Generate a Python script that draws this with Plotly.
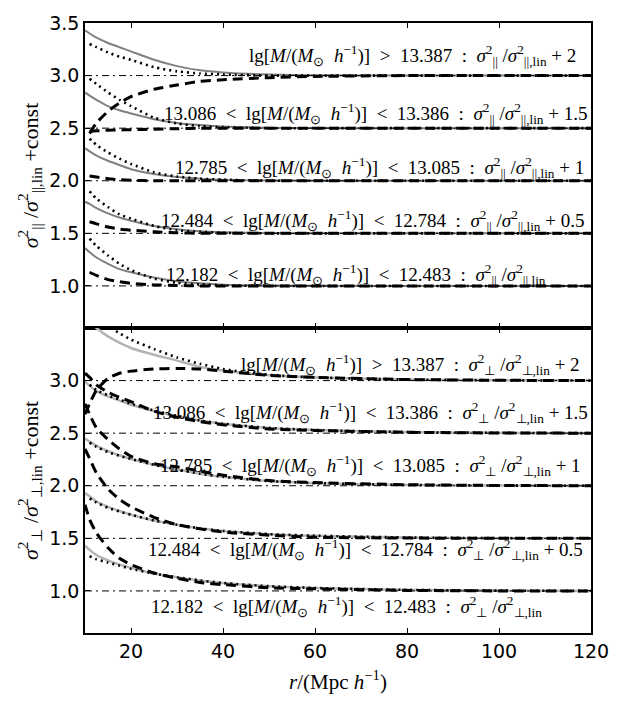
import plotly.graph_objects as go
from plotly.subplots import make_subplots

# separation r in Mpc/h
R_MODEL = [10, 11, 12.5, 15, 17.5, 20, 25, 30, 35, 40, 50, 60, 80, 100, 120]
R_SIM = [11, 12.5, 15, 17.5, 20, 25, 30, 35, 40, 50, 60, 80, 100, 120]

# vertical offsets added to each mass bin (lowest -> highest)
OFFSETS = [0.0, 0.5, 1.0, 1.5, 2.0]
MASS_LO = ["12.182", "12.484", "12.785", "13.086", None]
MASS_HI = ["12.483", "12.784", "13.085", "13.386", "13.387"]
OFFSET_TXT = ["", "+ 0.5", "+ 1", "+ 1.5", "+ 2"]

# sigma_par^2 / sigma_par,lin^2 - 1  (one list per mass bin)
PAR_SOLID = [
    [0.36, 0.32, 0.27, 0.21, 0.16, 0.13, 0.08, 0.045, 0.025, 0.012, 0.004, 0.001, 0, 0, 0],
    [0.30, 0.28, 0.24, 0.19, 0.15, 0.12, 0.07, 0.04, 0.02, 0.01, 0.003, 0.001, 0, 0, 0],
    [0.31, 0.28, 0.24, 0.19, 0.15, 0.11, 0.065, 0.035, 0.02, 0.01, 0.003, 0.001, 0, 0, 0],
    [0.34, 0.31, 0.27, 0.21, 0.17, 0.14, 0.085, 0.05, 0.03, 0.015, 0.005, 0.001, 0, 0, 0],
    [0.43, 0.40, 0.36, 0.31, 0.27, 0.23, 0.15, 0.09, 0.05, 0.03, 0.01, 0.003, 0, 0, 0],
]
PAR_DOT = [
    [0.45, 0.38, 0.29, 0.21, 0.15, 0.07, 0.03, 0.015, 0.005, 0, 0, 0, 0, 0],
    [0.40, 0.33, 0.25, 0.18, 0.14, 0.07, 0.03, 0.015, 0.005, 0, 0, 0, 0, 0],
    [0.40, 0.34, 0.27, 0.21, 0.16, 0.08, 0.04, 0.02, 0.01, 0, 0, 0, 0, 0],
    [0.47, 0.42, 0.34, 0.27, 0.21, 0.10, 0.045, 0.02, 0.01, 0, 0, 0, 0, 0],
    [0.30, 0.27, 0.22, 0.18, 0.15, 0.08, 0.04, 0.02, 0.01, 0, 0, 0, 0, 0],
]
PAR_DASH = [
    [0.13, 0.10, 0.06, 0.04, 0.025, 0.01, 0.005, 0, 0, 0, 0, 0, 0, 0],
    [0.11, 0.09, 0.06, 0.04, 0.03, 0.015, 0.005, 0, 0, 0, 0, 0, 0, 0],
    [0.045, 0.035, 0.02, 0.01, 0.005, 0, 0, 0, 0, 0, 0, 0, 0, 0],
    [-0.03, -0.025, -0.02, -0.017, -0.015, -0.01, -0.005, 0, 0, 0, 0, 0, 0, 0],
    [-0.55, -0.45, -0.34, -0.26, -0.20, -0.13, -0.09, -0.055, -0.04, -0.02, -0.008, 0, 0, 0],
]

# sigma_perp^2 / sigma_perp,lin^2 - 1
PERP_SOLID = [
    [0.43, 0.39, 0.34, 0.29, 0.25, 0.22, 0.165, 0.13, 0.10, 0.075, 0.045, 0.028, 0.01, 0.003, 0],
    [0.43, 0.40, 0.35, 0.30, 0.26, 0.225, 0.17, 0.13, 0.095, 0.07, 0.04, 0.025, 0.008, 0.002, 0],
    [0.45, 0.42, 0.38, 0.33, 0.29, 0.255, 0.20, 0.155, 0.115, 0.085, 0.045, 0.025, 0.008, 0.002, 0],
    [0.49, 0.45, 0.40, 0.35, 0.31, 0.27, 0.21, 0.16, 0.12, 0.09, 0.05, 0.03, 0.01, 0.003, 0],
    [0.60, 0.56, 0.50, 0.42, 0.36, 0.31, 0.245, 0.19, 0.13, 0.095, 0.05, 0.03, 0.01, 0.003, 0],
]
PERP_DOT = [
    [0.33, 0.30, 0.27, 0.24, 0.21, 0.165, 0.13, 0.10, 0.075, 0.045, 0.028, 0.01, 0.003, 0],
    [0.38, 0.34, 0.29, 0.255, 0.225, 0.17, 0.13, 0.095, 0.07, 0.04, 0.025, 0.008, 0.002, 0],
    [0.41, 0.37, 0.32, 0.285, 0.255, 0.20, 0.155, 0.115, 0.085, 0.045, 0.025, 0.008, 0.002, 0],
    [0.46, 0.41, 0.36, 0.32, 0.28, 0.215, 0.165, 0.12, 0.09, 0.05, 0.03, 0.01, 0.003, 0],
    [0.70, 0.62, 0.52, 0.45, 0.39, 0.30, 0.22, 0.16, 0.11, 0.055, 0.03, 0.01, 0.003, 0],
]
PERP_DASH = [
    [0.82, 0.68, 0.55, 0.41, 0.31, 0.25, 0.17, 0.12, 0.08, 0.06, 0.03, 0.02, 0.005, 0, 0],
    [0.85, 0.76, 0.62, 0.47, 0.37, 0.30, 0.20, 0.13, 0.09, 0.06, 0.03, 0.01, 0.003, 0, 0],
    [0.78, 0.68, 0.55, 0.44, 0.35, 0.28, 0.21, 0.18, 0.14, 0.10, 0.05, 0.03, 0.01, 0.003, 0],
    [0.57, 0.53, 0.46, 0.39, 0.34, 0.30, 0.21, 0.15, 0.11, 0.08, 0.04, 0.025, 0.008, 0.002, 0],
    [-0.32, -0.22, -0.09, 0.02, 0.07, 0.09, 0.11, 0.115, 0.11, 0.09, 0.05, 0.03, 0.01, 0.003, 0],
]

# label anchor points (x of right end, y centre) per panel
PAR_LABEL_X = [110.7, 118.9, 118.9, 119.6, 117.2]
PAR_LABEL_Y = [1.11, 1.62, 2.13, 2.64, 3.19]
PERP_LABEL_X = [109.8, 118.8, 118.3, 119.8, 118.0]
PERP_LABEL_Y = [0.85, 1.39, 2.19, 2.70, 3.15]

SERIF = "Liberation Serif"
SANS = "DejaVu Sans"
PAR = "||"
PERP = "⊥"
SP = "&nbsp;"

fig = make_subplots(rows=2, cols=1, shared_xaxes=True, vertical_spacing=0)


def add_panel(row, solid, dot, dash, solid_color, solid_width):
    for k, off in enumerate(OFFSETS):
        fig.add_trace(go.Scatter(
            x=R_MODEL, y=[1 + off + v for v in solid[k]], mode="lines",
            line=dict(color=solid_color, width=solid_width, shape="spline", smoothing=0.6),
            showlegend=False, hoverinfo="skip"), row=row, col=1)
    for k, off in enumerate(OFFSETS):
        fig.add_trace(go.Scatter(
            x=R_SIM, y=[1 + off + v for v in dot[k]], mode="lines",
            line=dict(color="black", width=2.6, dash="2px,4px", shape="spline", smoothing=0.6),
            showlegend=False, hoverinfo="skip"), row=row, col=1)
    rd = R_SIM if len(dash[0]) == len(R_SIM) else R_MODEL
    for k, off in enumerate(OFFSETS):
        fig.add_trace(go.Scatter(
            x=rd, y=[1 + off + v for v in dash[k]], mode="lines",
            line=dict(color="black", width=3, dash="10px,6px", shape="spline", smoothing=0.6),
            showlegend=False, hoverinfo="skip"), row=row, col=1)
    for off in OFFSETS:
        fig.add_trace(go.Scatter(
            x=[R_MODEL[0], R_MODEL[-1]], y=[1 + off, 1 + off], mode="lines",
            line=dict(color="black", width=1, dash="7px,4px,2px,4px"),
            showlegend=False, hoverinfo="skip"), row=row, col=1)


add_panel(1, PAR_SOLID, PAR_DOT, PAR_DASH, "#808080", 2)
add_panel(2, PERP_SOLID, PERP_DOT, PERP_DASH, "#b4b4b4", 2.5)

M_PART = f"lg[<i>M</i>/(<i>M</i><sub>⊙</sub>{SP} <i>h</i><sup>−1</sup>)]"


def label(k, sym):
    ratio = f"<i>σ</i><sup>2</sup><sub>{sym}</sub> /<i>σ</i><sup>2</sup><sub>{sym},lin</sub>"
    if MASS_LO[k] is None:
        head = f"{M_PART}{SP} &gt;{SP} {MASS_HI[k]}"
    else:
        head = f"{MASS_LO[k]}{SP} &lt;{SP} {M_PART}{SP} &lt;{SP} {MASS_HI[k]}"
    tail = f" {OFFSET_TXT[k]}" if OFFSET_TXT[k] else ""
    return f"{head}{SP} :{SP} {ratio}{tail}"


annotations = []
for k in range(5):
    annotations.append(dict(
        x=PAR_LABEL_X[k], y=PAR_LABEL_Y[k], xref="x", yref="y",
        text=label(k, PAR), showarrow=False, xanchor="right", yanchor="middle",
        font=dict(family=SERIF, size=19, color="black")))
    annotations.append(dict(
        x=PERP_LABEL_X[k], y=PERP_LABEL_Y[k], xref="x2", yref="y2",
        text=label(k, PERP), showarrow=False, xanchor="right", yanchor="middle",
        font=dict(family=SERIF, size=19, color="black")))

axis_common = dict(
    showline=True, linecolor="black", linewidth=1.5, mirror="allticks",
    ticks="inside", ticklen=5, tickwidth=1, tickcolor="black",
    showgrid=False, zeroline=False,
    tickfont=dict(family=SANS, size=19, color="black"),
)

fig.update_xaxes(range=[10, 120], tickvals=[20, 40, 60, 80, 100, 120], **axis_common)
fig.update_xaxes(showticklabels=False, row=1, col=1)
fig.update_xaxes(
    title=dict(text="<i>r</i>/(Mpc <i>h</i><sup>−1</sup>)", standoff=14,
               font=dict(family=SERIF, size=21, color="black")),
    row=2, col=1)

fig.update_yaxes(range=[0.6, 3.5], tickformat=".1f", **axis_common)
fig.update_yaxes(
    tickvals=[1.0, 1.5, 2.0, 2.5, 3.0, 3.5],
    title=dict(text=f"<i>σ</i><sup>2</sup><sub>{PAR}</sub> /<i>σ</i><sup>2</sup><sub>{PAR},lin</sub> +const",
               standoff=5, font=dict(family=SERIF, size=22, color="black")),
    row=1, col=1)
fig.update_yaxes(
    tickvals=[1.0, 1.5, 2.0, 2.5, 3.0],
    title=dict(text=f"<i>σ</i><sup>2</sup><sub>{PERP}</sub> /<i>σ</i><sup>2</sup><sub>{PERP},lin</sub> +const",
               standoff=5, font=dict(family=SERIF, size=22, color="black")),
    row=2, col=1)

fig.update_layout(
    width=632, height=702,
    margin=dict(l=85, r=41, t=12, b=64),
    paper_bgcolor="white", plot_bgcolor="white",
    showlegend=False,
    annotations=annotations,
)

fig.write_html("out.html")
